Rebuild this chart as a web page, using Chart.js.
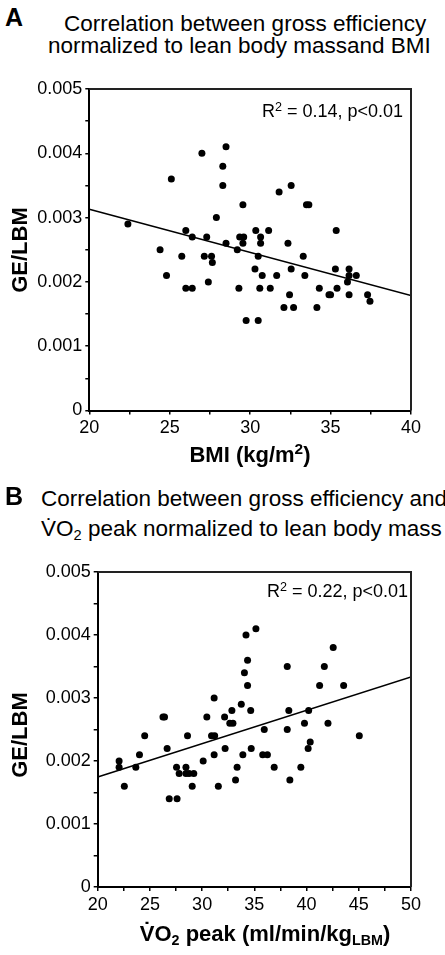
<!DOCTYPE html>
<html>
<head>
<meta charset="utf-8">
<script src="https://cdn.jsdelivr.net/npm/chart.js@4.4.1/dist/chart.umd.min.js"></script>
<style>
body{margin:0;background:#fff;font-family:"Liberation Sans",Arial,sans-serif;color:#000}
#wrap{position:relative;width:445px;height:955px;overflow:hidden}
.t{position:absolute;white-space:nowrap}
.b{font-weight:bold}
.sub{font-size:0.65em;position:relative;top:0.3em}
.sup{font-size:0.7em;position:relative;top:-0.5em}
canvas{position:absolute;left:0}
</style>
</head>
<body>
<div id="wrap">
  <canvas id="chartA" width="445" height="380" style="top:70px;width:445px;height:380px"></canvas>
  <canvas id="chartB" width="445" height="400" style="top:555px;width:445px;height:400px"></canvas>

  <div class="t b" style="left:5px;top:5px;font-size:25px;line-height:25px">A</div>
  <div class="t" style="left:64px;top:13px;font-size:22.5px;line-height:22px">Correlation between gross efficiency</div>
  <div class="t" style="left:48px;top:35px;font-size:22.5px;line-height:22px">normalized to lean body massand BMI</div>
  <div class="t" style="left:262px;top:102px;font-size:18px;line-height:18px">R<span class="sup">2</span> = 0.14, p&lt;0.01</div>
  <div class="t b" style="left:-40px;top:239px;width:120px;text-align:center;font-size:22px;line-height:22px;transform:rotate(-90deg)">GE/LBM</div>
  <div class="t b" style="left:150px;top:444px;width:200px;text-align:center;font-size:22px;line-height:22px">BMI (kg/m<span class="sup">2</span>)</div>

  <div class="t b" style="left:5px;top:484px;font-size:25px;line-height:25px">B</div>
  <div class="t" style="left:41px;top:488px;font-size:22.5px;line-height:22px">Correlation between gross efficiency and</div>
  <div class="t" style="left:41px;top:518px;font-size:22.5px;line-height:22px">V&#775;O<span class="sub">2</span> peak normalized to lean body mass</div>
  <div class="t" style="left:267px;top:582px;font-size:18px;line-height:18px">R<span class="sup">2</span> = 0.22, p&lt;0.01</div>
  <div class="t b" style="left:-40px;top:724px;width:120px;text-align:center;font-size:22px;line-height:22px;transform:rotate(-90deg)">GE/LBM</div>
  <div class="t b" style="left:115px;top:923px;width:300px;text-align:center;font-size:22px;line-height:22px">V&#775;O<span class="sub">2</span> peak (ml/min/kg<span class="sub">LBM</span>)</div>
</div>
<script>
// panel A: BMI vs GE/LBM
const bmi = [22.4, 25.1, 27.0, 28.5, 28.3, 28.3, 29.55, 27.9, 26.0, 26.4, 27.3, 28.5, 29.35, 29.6, 29.55, 29.2,
  24.4, 25.75, 27.15, 27.6, 27.65, 24.8, 27.4, 26.0, 26.4, 29.3, 29.75, 31.8, 32.55, 33.5, 33.65, 35.35,
  30.35, 31.15, 30.65, 30.65, 32.35, 30.5, 33.3, 30.3, 32.55, 35.3, 36.15, 30.75, 31.65, 33.4, 36.15, 36.6,
  36.05, 30.6, 31.25, 34.3, 35.4, 32.45, 34.9, 35.0, 36.15, 37.3, 32.1, 32.7, 34.15, 37.45, 30.5];
const geBmi = [0.0029, 0.0036, 0.0040, 0.0041, 0.0038, 0.0035, 0.0032, 0.0030, 0.0028, 0.0027, 0.0027, 0.0026, 0.0027, 0.0027, 0.0026, 0.0025,
  0.0025, 0.0024, 0.0024, 0.0024, 0.0023, 0.0021, 0.0020, 0.0019, 0.0019, 0.0019, 0.0014, 0.0034, 0.0035, 0.0032, 0.0032, 0.0028,
  0.0028, 0.0028, 0.0027, 0.0026, 0.0026, 0.0024, 0.0024, 0.0022, 0.0022, 0.0022, 0.0022, 0.0021, 0.0021, 0.0021, 0.0021, 0.0021,
  0.0020, 0.0019, 0.0019, 0.0019, 0.0019, 0.0018, 0.0018, 0.0018, 0.0018, 0.0018, 0.0016, 0.0016, 0.0016, 0.0017, 0.0014];
const fitBmiX = [20, 40];
const fitBmiY = [0.00313, 0.00179];

// panel B: VO2 peak vs GE/LBM
const vo2 = [34.2, 35.15, 34.35, 34.05, 34.35, 42.55, 38.15, 41.7, 41.25, 43.55, 31.15, 33.75, 32.85, 34.65, 26.25, 26.4,
  30.45, 32.15, 32.65, 32.95, 24.5, 28.6, 30.9, 31.2, 26.65, 32.2, 34.7, 24.0, 31.15, 33.9, 22.05, 30.1,
  22.05, 23.65, 27.55, 28.45, 33.35, 27.8, 28.45, 28.75, 29.2, 22.55, 29.05, 31.55, 33.2, 26.85, 27.6, 38.3,
  40.2, 35.95, 38.15, 39.8, 42.05, 45.05, 40.35, 40.15, 35.8, 36.25, 36.9, 39.45, 38.4];
const geVo2 = [0.0040, 0.0041, 0.0036, 0.0034, 0.0032, 0.0038, 0.0035, 0.0035, 0.0032, 0.0032, 0.0030, 0.0029, 0.0028, 0.0028, 0.0027, 0.0027,
  0.0027, 0.0027, 0.0026, 0.0026, 0.0024, 0.0024, 0.0024, 0.0024, 0.0022, 0.0022, 0.0022, 0.0021, 0.0021, 0.0021, 0.0020, 0.0020,
  0.0019, 0.0019, 0.0019, 0.0019, 0.0019, 0.0018, 0.0018, 0.0018, 0.0018, 0.0016, 0.0016, 0.0016, 0.0017, 0.0014, 0.0014, 0.0028,
  0.0028, 0.0025, 0.0025, 0.0026, 0.0026, 0.0024, 0.0023, 0.0022, 0.0021, 0.0021, 0.0019, 0.0019, 0.0017];
const fitVo2X = [20, 50];
const fitVo2Y = [0.001745, 0.003335];

const yTicks = [0, 0.001, 0.002, 0.003, 0.004, 0.005];
const yTickLabels = ['0', '0.001', '0.002', '0.003', '0.004', '0.005'];
const xTicksA = [20, 25, 30, 35, 40];
const xTicksB = [20, 25, 30, 35, 40, 45, 50];

// top and right edges of the box
const frame = {
  id: 'frame',
  afterDatasetsDraw(chart) {
    const {ctx, chartArea: a} = chart;
    ctx.save();
    ctx.strokeStyle = '#222';
    ctx.lineWidth = 2;
    ctx.beginPath();
    ctx.moveTo(a.left, a.top);
    ctx.lineTo(a.right, a.top);
    ctx.lineTo(a.right, a.bottom);
    ctx.stroke();
    ctx.restore();
  }
};

function labelFor(list, labels, v) {
  const i = list.findIndex(t => Math.abs(t - v) < 1e-9);
  return i >= 0 ? labels[i] : '';
}

function makeChart(id, xs, ys, fitX, fitY, xTicks, opts) {
  const pts = xs.map((x, i) => ({x, y: ys[i]}));
  const axisGrid = {drawOnChartArea: false, drawTicks: true, tickLength: 4, color: '#000', lineWidth: 1.5};
  return new Chart(document.getElementById(id), {
    type: 'scatter',
    data: {datasets: [
      {data: pts, backgroundColor: '#000', borderWidth: 0, pointRadius: 3.5},
      {type: 'line', data: fitX.map((x, i) => ({x, y: fitY[i]})), borderColor: '#000', borderWidth: 1.5,
        pointRadius: 0, fill: false}
    ]},
    options: {
      responsive: false,
      animation: false,
      events: [],
      layout: {padding: {left: 0, right: opts.right, top: opts.top, bottom: 0}},
      plugins: {legend: {display: false}, tooltip: {enabled: false}},
      scales: {
        x: {
          type: 'linear', min: xTicks[0], max: xTicks[xTicks.length - 1],
          afterFit: s => { s.height = opts.xHeight; },
          border: {color: '#000', width: 2},
          grid: axisGrid,
          ticks: {stepSize: 2.5, autoSkip: false, maxRotation: 0, padding: 3, color: '#000',
            font: {family: 'Liberation Sans', size: 18},
            callback: v => labelFor(xTicks, xTicks.map(String), v)}
        },
        y: {
          min: 0, max: 0.005,
          afterFit: s => { s.width = opts.yWidth; },
          border: {color: '#000', width: 2},
          grid: axisGrid,
          ticks: {stepSize: 0.0005, autoSkip: false, padding: 3, color: '#000',
            font: {family: 'Liberation Sans', size: 18},
            callback: v => labelFor(yTicks, yTickLabels, v)}
        }
      }
    },
    plugins: [frame]
  });
}

makeChart('chartA', bmi, geBmi, fitBmiX, fitBmiY, xTicksA, {right: 34, top: 19, xHeight: 39.5, yWidth: 89.3});
makeChart('chartB', vo2, geVo2, fitVo2X, fitVo2Y, xTicksB, {right: 34, top: 17, xHeight: 68, yWidth: 97.7});
</script>
</body>
</html>
